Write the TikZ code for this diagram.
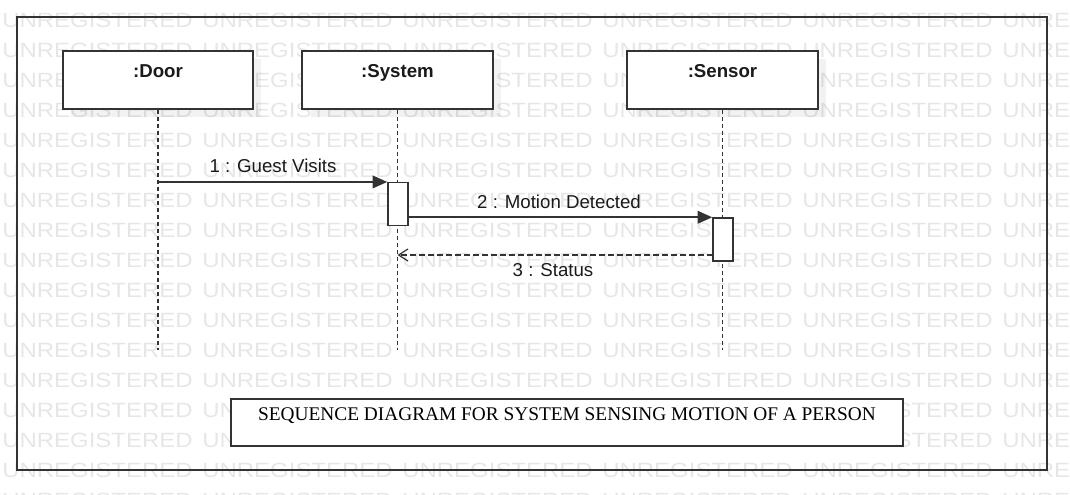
\documentclass[tikz,border=0pt]{standalone}
\usepackage{fontspec}
\setmainfont{Liberation Serif}
\newfontfamily\arialfont{Liberation Sans}
\usetikzlibrary{arrows.meta}
\definecolor{ln}{HTML}{333333}
\definecolor{wm}{HTML}{E6E6E6}
\definecolor{tx}{HTML}{1A1A1A}
\tikzset{
  wmark/.style={anchor=west, inner sep=0pt, text=wm, font=\arialfont\fontsize{15.5}{18}\selectfont},
  actor/.style={draw=ln, line width=1.1pt, fill=white, inner sep=0pt, minimum width=142.5pt, minimum height=43.5pt},
  actshadow/.style={fill=black, fill opacity=0.05, inner sep=0pt, minimum width=142.5pt, minimum height=43.5pt},
  actlbl/.style={anchor=base, inner sep=0pt, text=tx, font=\arialfont\bfseries\fontsize{14}{16}\selectfont},
  lifeline/.style={draw=ln, line width=0.8pt, dash pattern=on 3pt off 2.25pt},
  actbox/.style={draw=ln, line width=1.1pt, fill=white, inner sep=0pt, minimum width=15pt, minimum height=32pt},
  msg/.style={draw=ln, line width=1.2pt, -{Triangle[length=11pt,width=9.5pt]}},
  retmsg/.style={draw=ln, line width=0.9pt, dash pattern=on 4.5pt off 2.25pt, -{Straight Barb[length=7pt,width=9pt,line width=0.9pt]}},
  msglbl/.style={anchor=base, inner sep=0pt, text=tx, font=\arialfont\fontsize{14}{16}\selectfont},
  titlebox/.style={draw=ln, line width=1.1pt, fill=white, inner sep=0pt, minimum width=504pt, minimum height=35.25pt},
  titlelbl/.style={anchor=base, inner sep=0pt, text=black, font=\fontsize{14.5}{17}\selectfont},
  frame/.style={draw=ln, line width=1.4pt}
}
\begin{document}
\begin{tikzpicture}[x=0.75pt,y=-0.75pt]
\useasboundingbox (0,0) rectangle (1070,494);
% watermark
\begin{scope}
\clip (0,0) rectangle (1070,494);
\foreach \r in {0,...,16} {
  \foreach \c in {0,...,5} {
    \node[wmark] (w\r-\c) at ({200*\c+2},{20.5+30*\r}) {\scalebox{1.16}[1]{UNREGISTERED}};
  }
}
\end{scope}
% outer frame
\draw[frame] (17,17) rectangle (1047,470);
% shadows
\node[actshadow] (doorsh) at (166,88) {};
\node[actshadow] (syssh) at (405.5,88) {};
\node[actshadow] (senssh) at (730.5,88) {};
% actors
\node[actor] (door) at (158,80) {};
\node[actor, minimum width=143.25pt] (sys) at (397.5,80) {};
\node[actor, minimum width=143.25pt] (sens) at (722.5,80) {};
\node[actlbl] (doorlbl) at (158,77) {:Door};
\node[actlbl] (syslbl) at (397.5,77) {:System};
\node[actlbl] (senslbl) at (722.5,77) {:Sensor};
% lifelines
\coordinate (doorend) at (158,350);
\coordinate (sysend) at (397.5,350);
\coordinate (sensend) at (722.5,350);
\draw[lifeline] (door.south) -- (doorend);
\draw[lifeline] (sys.south) -- (sysend);
\draw[lifeline] (sens.south) -- (sensend);
% activations
\node[actbox] (sysact) at (398,204) {};
\node[actbox, minimum height=32.25pt] (sensact) at (723,239.5) {};
% messages
\coordinate (m1s) at (door.south |- sysact.north);
\draw[msg] (m1s) -- (sysact.north west);
\node[msglbl] (m1lbl) at (273,172.5) {1 : Guest Visits};
\coordinate (m2s) at (sysact.east |- sensact.north);
\draw[msg] (m2s) -- (sensact.north west);
\node[msglbl] (m2lbl) at (559,208) {2 : Motion Detected};
\coordinate (m3s) at (713,255);
\coordinate (m3e) at (sys.south |- m3s);
\draw[retmsg] (m3s) -- (m3e);
\node[msglbl] (m3lbl) at (553,276.5) {3 : Status};
% title
\node[titlebox] (title) at (567,422.5) {};
\node[titlelbl] (titlelbl) at (567,420.5) {SEQUENCE DIAGRAM FOR SYSTEM SENSING MOTION OF A PERSON};
\end{tikzpicture}
\end{document}
